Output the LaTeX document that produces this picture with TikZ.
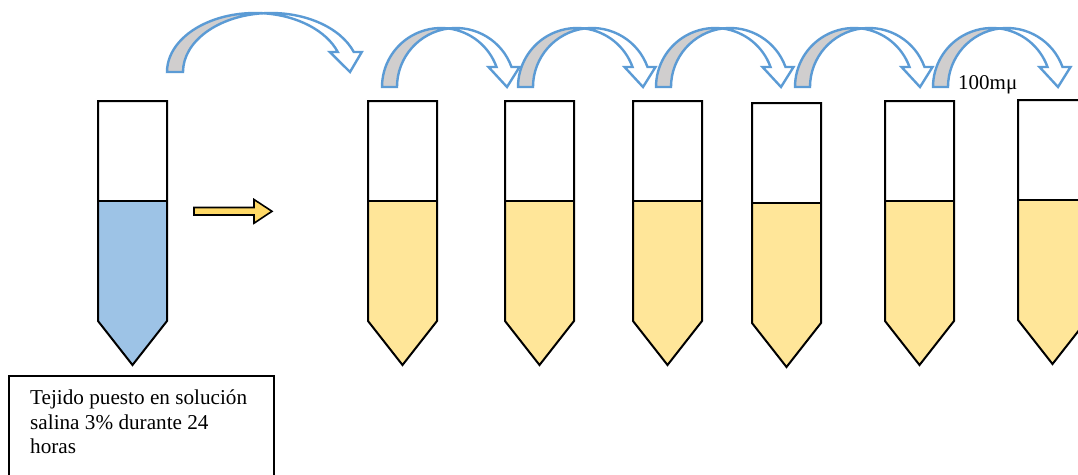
\documentclass[tikz,border=0pt]{standalone}
\usepackage{fontspec}
\setmainfont{Liberation Serif}
\definecolor{liqblue}{HTML}{9DC3E6}
\definecolor{liqyel}{HTML}{FFE699}
\definecolor{arrblue}{HTML}{5B9BD5}
\definecolor{arrgrey}{HTML}{D0CECE}
\definecolor{goldarr}{HTML}{FFD966}
\tikzset{
  tubeline/.style={draw=black, line width=2pt, line join=miter},
  curvline/.style={draw=arrblue, line width=2.4pt, line join=miter},
  labeltext/.style={inner sep=0pt, font=\fontsize{21}{24}\selectfont},
  boxtext/.style={inner sep=0pt, align=left, font=\fontsize{21.2}{24.4}\selectfont},
  infobox/.style={draw=black, line width=1.5pt, inner sep=0pt, anchor=north west},
  yellowarrow/.style={draw=black, line width=1.6pt, fill=goldarr, line join=miter}
}
% #1 left x, #2 top y, #3 liquid y, #4 colour  (image pixel coordinates)
\newcommand\testtube[4]{%
  \pgfmathsetmacro\tL{#1}\pgfmathsetmacro\tR{#1+69}\pgfmathsetmacro\tM{#1+34.5}%
  \pgfmathsetmacro\tE{-(#2+220)}\pgfmathsetmacro\tT{-(#2+264)}%
  \fill[#4] (\tL,-#3) -- (\tR,-#3) -- (\tR,\tE) -- (\tM,\tT) -- (\tL,\tE) -- cycle;
  \draw[tubeline] (\tL,-#2) -- (\tR,-#2) -- (\tR,\tE) -- (\tM,\tT) -- (\tL,\tE) -- cycle;
  \draw[tubeline] (\tL,-#3) -- (\tR,-#3);
}
% #1 left x, #2 base y, #3 x radius, #4 thickness, #5 tip x
\newcommand\curvarrow[5]{%
  \pgfmathsetmacro\cuA{#1+#3}%
  \pgfmathsetmacro\cuB{#1+#3+#4}%
  \pgfmathsetmacro\cuY{-#2}%
  \pgfmathsetmacro\cua{acos(#4/(2*#3))}%
  \pgfmathsetmacro\cub{180-\cua}%
  \pgfmathsetmacro\cuph{asin(20/59)}%
  \pgfmathsetmacro\cuXx{\cuA+#3*cos(\cua)}%
  \pgfmathsetmacro\cuXy{\cuY+59*sin(\cua)}%
  \pgfmathsetmacro\cuNy{\cuY+20}%
  \pgfmathsetmacro\cuNI{\cuA+#3*cos(\cuph)}%
  \pgfmathsetmacro\cuNO{\cuB+#3*cos(\cuph)}%
  \draw[curvline, fill=white] (\cuXx,\cuXy)
     arc[start angle=\cub, end angle=\cuph, x radius=#3, y radius=59]
     -- (\cuNO+8,\cuNy) -- (#5,\cuY) -- (\cuNI-8,\cuNy) -- (\cuNI,\cuNy)
     arc[start angle=\cuph, end angle=\cua, x radius=#3, y radius=59] -- cycle;
  \draw[curvline, fill=arrgrey] (#1,\cuY)
     arc[start angle=180, end angle=\cua, x radius=#3, y radius=59]
     arc[start angle=\cub, end angle=180, x radius=#3, y radius=59] -- cycle;
}
\begin{document}
\begin{tikzpicture}[x=1pt,y=1pt]
\useasboundingbox (0,0) rectangle (1078,-474);
\clip (0,0) rectangle (1078,-474);
\fill[white] (0,0) rectangle (1078,-474);

% curved transfer arrows
\curvarrow{167}{72}{88}{16}{350}
\curvarrow{382}{87}{59}{15}{507}
\curvarrow{518}{87}{59}{15}{643}
\curvarrow{656}{87}{59}{15}{781}
\curvarrow{795}{87}{59}{15}{920}
\curvarrow{933}{87}{59}{15}{1058}

% tubes
\testtube{98}{101}{201}{liqblue}
\testtube{368}{101}{201}{liqyel}
\testtube{505}{101}{201}{liqyel}
\testtube{633}{101}{201}{liqyel}
\testtube{752}{103}{203}{liqyel}
\testtube{885}{101}{201}{liqyel}
\testtube{1018}{100}{200}{liqyel}

% small yellow arrow
\draw[yellowarrow] (194,-207.5) -- (254,-207.5) -- (254,-199.5) -- (272,-211.3)
   -- (254,-223.2) -- (254,-215) -- (194,-215) -- cycle;

% label
\node[labeltext, anchor=base west] (vol) at (958,-89) {100mμ};

% info box
\node[infobox, minimum width=265pt, minimum height=150pt] (box) at (8,-375) {};
\node[boxtext, anchor=north west] (boxlabel) at (30,-390) {Tejido puesto en solución\\salina 3\% durante 24\\horas};
\end{tikzpicture}
\end{document}
